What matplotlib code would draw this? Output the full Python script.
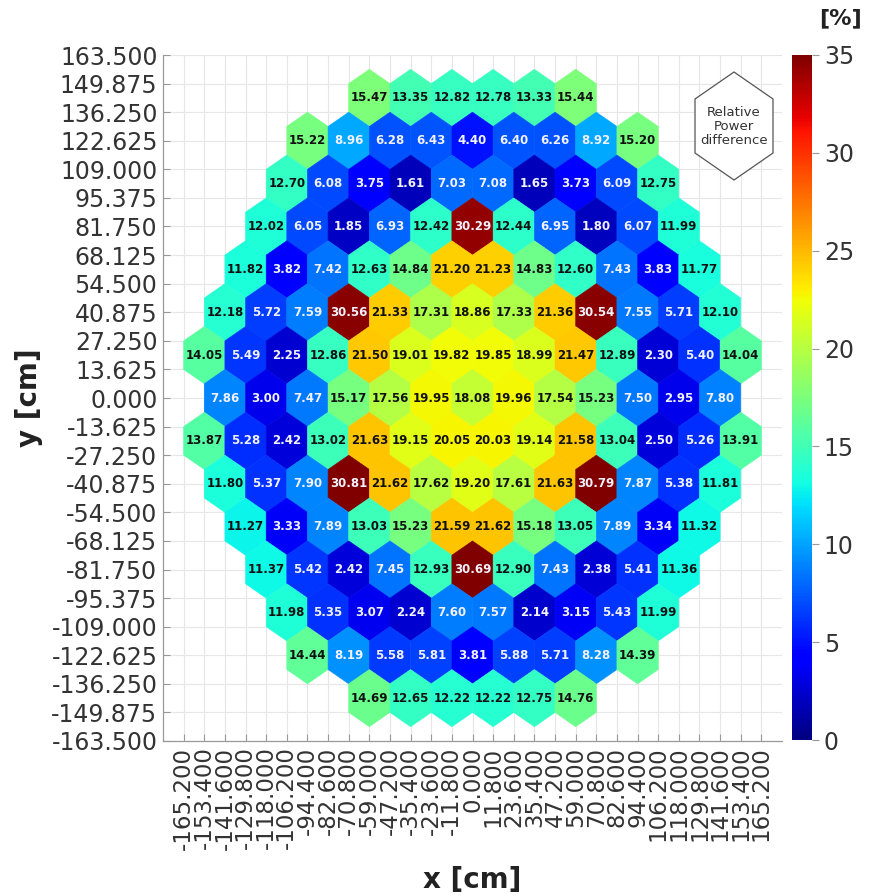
import numpy as np
import matplotlib
matplotlib.use("Agg")
import matplotlib.pyplot as plt
from matplotlib.collections import PolyCollection
from matplotlib.colors import Normalize
from matplotlib.cm import ScalarMappable
from matplotlib.patches import Polygon

# Relative power difference [%] per assembly, listed row by row from top to bottom
row_values = [
    [15.47, 13.35, 12.82, 12.78, 13.33, 15.44],
    [15.22, 8.96, 6.28, 6.43, 4.40, 6.40, 6.26, 8.92, 15.20],
    [12.70, 6.08, 3.75, 1.61, 7.03, 7.08, 1.65, 3.73, 6.09, 12.75],
    [12.02, 6.05, 1.85, 6.93, 12.42, 30.29, 12.44, 6.95, 1.80, 6.07, 11.99],
    [11.82, 3.82, 7.42, 12.63, 14.84, 21.20, 21.23, 14.83, 12.60, 7.43, 3.83, 11.77],
    [12.18, 5.72, 7.59, 30.56, 21.33, 17.31, 18.86, 17.33, 21.36, 30.54, 7.55, 5.71, 12.10],
    [14.05, 5.49, 2.25, 12.86, 21.50, 19.01, 19.82, 19.85, 18.99, 21.47, 12.89, 2.30, 5.40, 14.04],
    [7.86, 3.00, 7.47, 15.17, 17.56, 19.95, 18.08, 19.96, 17.54, 15.23, 7.50, 2.95, 7.80],
    [13.87, 5.28, 2.42, 13.02, 21.63, 19.15, 20.05, 20.03, 19.14, 21.58, 13.04, 2.50, 5.26, 13.91],
    [11.80, 5.37, 7.90, 30.81, 21.62, 17.62, 19.20, 17.61, 21.63, 30.79, 7.87, 5.38, 11.81],
    [11.27, 3.33, 7.89, 13.03, 15.23, 21.59, 21.62, 15.18, 13.05, 7.89, 3.34, 11.32],
    [11.37, 5.42, 2.42, 7.45, 12.93, 30.69, 12.90, 7.43, 2.38, 5.41, 11.36],
    [11.98, 5.35, 3.07, 2.24, 7.60, 7.57, 2.14, 3.15, 5.43, 11.99],
    [14.44, 8.19, 5.58, 5.81, 3.81, 5.88, 5.71, 8.28, 14.39],
    [14.69, 12.65, 12.22, 12.22, 12.75, 14.76],
]

x_ticks = np.round(np.arange(-14, 15) * 11.8, 3) + 0.0
y_ticks = np.round(np.arange(-12, 13) * 13.625, 3) + 0.0
cbar_ticks = [0, 5, 10, 15, 20, 25, 30, 35]

pitch = 23.6                      # flat-to-flat assembly pitch [cm]
radius = pitch / np.sqrt(3)       # hexagon circumradius
row_step = pitch * np.sqrt(3) / 2

# hexagon geometry (pointy top)
ang = np.pi / 2 + np.arange(6) * np.pi / 3
hx, hy = radius * np.cos(ang), radius * np.sin(ang)

centers, vals = [], []
n_rows = len(row_values)
for i, row in enumerate(row_values):
    yc = ((n_rows - 1) / 2 - i) * row_step
    n = len(row)
    for j, v in enumerate(row):
        xc = (j - (n - 1) / 2) * pitch
        centers.append((xc, yc))
        vals.append(v)
centers = np.array(centers)
vals = np.array(vals)

verts = [np.column_stack([cx + hx, cy + hy]) for cx, cy in centers]

fig = plt.figure(figsize=(8.72, 8.96), dpi=100)
ax = fig.add_axes([163 / 872, 1 - 741 / 896, 619 / 872, 686 / 896])

cmap = plt.get_cmap("jet")
# cells are coloured over 0..max of the map; the bar shows a fixed 0..35 scale
cell_norm = Normalize(vmin=0, vmax=vals.max())
coll = PolyCollection(verts, array=vals, cmap=cmap, norm=cell_norm,
                      edgecolors="face", linewidths=0.4, zorder=2)
ax.add_collection(coll)

for (cx, cy), v in zip(centers, vals):
    tc = "#f2f2ff" if (v < 10 or v > 28) else "#111111"
    ax.text(cx, cy, f"{v:.2f}", ha="center", va="center", fontsize=8.5,
            fontweight="bold", color=tc, zorder=3)

ax.set_xlim(-177, 177)
ax.set_ylim(-163.5, 163.5)
ax.set_xticks(x_ticks)
ax.set_xticklabels([f"{t:.3f}" for t in x_ticks], rotation=90)
ax.set_yticks(y_ticks)
ax.set_yticklabels([f"{t:.3f}" for t in y_ticks])
ax.tick_params(axis="both", direction="in", length=5, width=0.8, color="#999999",
               labelsize=17, labelcolor="#333333", pad=4)
ax.tick_params(axis="x", labelsize=16.5)
ax.grid(True, color="#e6e6e6", linewidth=0.8, zorder=0)
ax.set_axisbelow(True)
for s in ("top", "right"):
    ax.spines[s].set_visible(False)
for s in ("left", "bottom"):
    ax.spines[s].set_color("#999999")
    ax.spines[s].set_linewidth(0.9)

ax.set_xlabel("x [cm]", fontsize=20, fontweight="bold", color="#222222", labelpad=12)
ax.set_ylabel("y [cm]", fontsize=20, fontweight="bold", color="#222222", labelpad=6)

# hexagon-shaped tag in the upper right corner
tag_cx, tag_cy = 734 / 872, 1 - 126 / 896
tw, th = 39 / 872, 54 / 896
tag = Polygon([[tag_cx, tag_cy + th], [tag_cx + tw, tag_cy + th / 2],
               [tag_cx + tw, tag_cy - th / 2], [tag_cx, tag_cy - th],
               [tag_cx - tw, tag_cy - th / 2], [tag_cx - tw, tag_cy + th / 2]],
              closed=True, transform=fig.transFigure, facecolor="white",
              edgecolor="#555555", linewidth=0.9, zorder=5)
fig.patches.append(tag)
fig.text(tag_cx, tag_cy, "Relative\nPower\ndifference", ha="center", va="center",
         fontsize=9.5, color="#333333", linespacing=1.1, zorder=6)

# colour bar
cax = fig.add_axes([792 / 872, 1 - 740 / 896, 20 / 872, 685 / 896])
bar_sm = ScalarMappable(norm=Normalize(vmin=0, vmax=35), cmap=cmap)
cb = fig.colorbar(bar_sm, cax=cax, ticks=cbar_ticks)
cb.outline.set_visible(False)
cax.tick_params(labelsize=17, labelcolor="#333333", color="#999999",
                length=5, width=0.8, direction="out")
fig.text(840 / 872, 1 - 18 / 896, "[%]", ha="center", va="center",
         fontsize=16, fontweight="bold", color="#222222")

fig.savefig("out.png", dpi=100)
